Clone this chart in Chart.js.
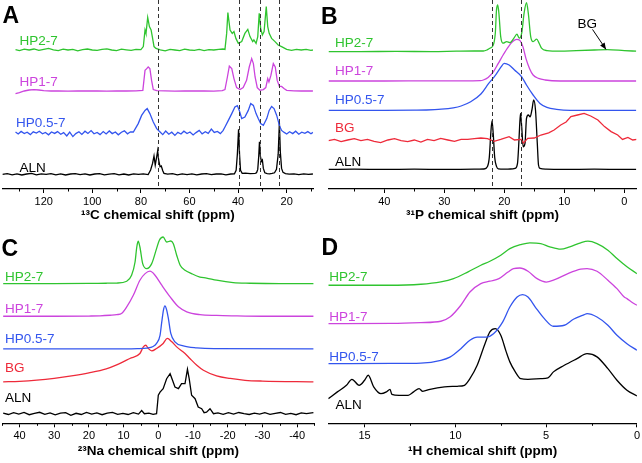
<!DOCTYPE html>
<html>
<head>
<meta charset="utf-8">
<script src="https://cdn.jsdelivr.net/npm/chart.js@4.4.1/dist/chart.umd.min.js"></script>
<style>
  body { margin: 0; background: #fff; }
  #wrap { position: relative; width: 642px; height: 463px; }
  canvas { position: absolute; }
</style>
</head>
<body>
<div id="wrap">
  <canvas id="chartA" width="321" height="232" style="left:0;top:0"></canvas>
  <canvas id="chartB" width="321" height="232" style="left:321px;top:0"></canvas>
  <canvas id="chartC" width="321" height="231" style="left:0;top:232px"></canvas>
  <canvas id="chartD" width="321" height="231" style="left:321px;top:232px"></canvas>
</div>
<script>
// colours per sample
var colGreen = '#2fc42f', colMagenta = '#cc44dd', colBlue = '#3355ee', colRed = '#ee2a3a', colBlack = '#000';

// ---- panel A: 13C, [ppm, intensity] ----
var a_hp2 = [[131.6,0.2],[130,-0.3],[128,0.4],[126,0],[124,0.5],[122,-0.2],[120,0.3],[118,0.8],[116,0.1],[114,-0.3],[112,0.4],[110,0],[108,0.3],[106,-0.4],[104,0.2],[102,0.5],[100,0],[98,-0.2],[96,0.3],[94,0.6],[92,0],[90,-0.3],[88,0.4],[86,0.1],[84,-0.2],[82,0.3],[80,0.2],
  [79,1.7],[78.3,10],[77.9,8.3],[77.2,16.3],[76.5,11.7],[75.8,10],[75.3,6.7],[74.6,1.7],[73.8,0.8],
  [72,0.1],[70,-0.4],[68,0.3],[66,0],[64,-0.3],[62,0.4],[60,0],[58,-0.2],[56,0.3],[54,-0.3],[52,0.2],[50,0],[48,0.3],[46.2,0.5],
  [45.4,0.3],[44.7,8.3],[44.2,18.7],[43.3,10],[42.4,8.3],[41.7,9.2],[40.9,5.8],[39.9,3.3],[38.5,4.2],[37.2,8.3],[36,10.3],[35.1,6.7],[34,4.2],[33.5,5],[32.6,3.3],[31.9,6.7],[31.3,18.3],[30.7,10.8],[30,7.5],[29.3,9.2],[28.4,21.7],[27.8,11.7],[27.2,8.3],[26.2,5.8],[24.8,4.2],[23.5,2.5],[22.1,1.7],[20,0.3],
  [18,-0.2],[16,0.3],[14,0],[12,0.3],[10,-0.2],[9.2,0]];
var a_hp1 = [[131.6,-1.3],[130,-0.8],[128,0],[126,0.5],[124,0.7],[122,0.5],[120,0.2],[117,0],[114,0.1],[110,-0.1],[106,0.1],[102,0],[98,0.1],[94,-0.1],[90,0.1],[86,0],[82,0.1],[79.2,0.3],
  [78.3,10.3],[77.6,11.2],[77,12],[76.3,11.2],[75.6,5.3],[74.9,0.7],[73.5,0.2],[70,0.1],[66,-0.1],[62,0.1],[58,0],[54,0.1],[50,-0.1],[46.5,0.2],
  [45.4,0.7],[44.4,7],[43.6,12.4],[42.6,11.2],[41.7,6.2],[40.6,1.7],[39.2,0.7],[37.9,1.7],[36.5,5.3],[35.4,12],[34.4,16.2],[33.7,13.7],[33,7],[32.1,1.7],[31,0.35],[29.6,0.7],[28.6,1.7],[27.8,6.2],[27.3,4.5],[26.5,7.8],[25.5,13.7],[24.7,12],[23.9,5.3],[23,2.3],[22.1,2.3],[21.1,1.2],[20,0.35],[17,0.1],[14,0],[11,0.1],[9.2,0]];
var a_hp05 = [[131.6,0.5],[130.5,-0.5],[129.3,0.8],[128,-0.3],[126.8,0.4],[125.5,-0.8],[124.3,0.6],[123,0],[121.8,0.9],[120.5,-0.4],[119.3,0.3],[118,-0.9],[116.8,0.5],[115.5,-0.2],[114.3,0.7],[113,-0.6],[111.8,0.2],[110.5,-1.5],[109.3,0.4],[108,-1.8],[106.8,-0.3],[105.5,0.6],[104.3,-0.7],[103,0.9],[101.8,-0.2],[100.5,1.2],[99.3,-0.4],[98,0.3],[96.8,-0.8],[95.5,0.7],[94.3,-0.5],[93,1],[91.8,-0.3],[90.5,0.5],[89.3,-0.9],[88,0.4],[86.8,1.1],[85.5,-0.4],[84.3,0.6],[83.1,0.5],
  [81.1,4.7],[79.7,8.8],[78.3,11.3],[77.4,12.2],[76.3,9.7],[74.9,5.5],[73.5,2.2],[72.1,0.5],
  [71,-0.8],[69.8,1],[68.5,-0.6],[67.3,0.4],[66,-1.2],[64.8,0.3],[63.5,-0.5],[62.3,0.9],[61,-0.3],[59.8,0.5],[58.5,-1],[57.3,0.2],[56,1.3],[54.8,-0.4],[53.5,0.6],[52.3,-0.2],[51,2],[49.8,0.3],[48.5,0.8],[47.3,-0.3],[46.2,1.2],
  [45.4,3],[44,6.3],[42.6,9.7],[41.3,13],[40.3,13.7],[39.5,11.3],[38.5,7.2],[37.2,8],[35.8,11.3],[34.8,14.7],[33.7,13.8],[32.6,9.7],[31.7,7.2],[30.7,4.7],[29.6,3.8],[28.2,7.2],[27.2,11.3],[26.2,13.3],[25.2,12.2],[24.1,8.8],[23,3.8],[22.1,1.3],[21,0.3],[20,-0.5],[18.8,0.6],[17.5,-0.3],[16.3,0.9],[15,-0.6],[13.8,0.4],[12.5,-0.2],[11.3,0.7],[10,-0.4],[9.2,0.3]];
var a_aln = [[137,0],[135,0.4],[133,-0.2],[131,0.3],[129,-0.3],[127,0.2],[125,0.5],[123,-0.2],[121,0.3],[119,0],[117,0.4],[115,-0.2],[113,0.3],[111,-0.3],[109,0.2],[107,0.4],[105,-0.1],[103,0.3],[101,-0.3],[99,0.2],[97,0.4],[95,-0.2],[93,0.1],[91,0.4],[89,-0.2],[87,0.2],[85,-0.3],[83,0.3],[81,0],[79,0.3],[77,-0.1],
  [76,2.2],[75.2,5.5],[74.6,9.2],[74.1,4.7],[73.5,8.8],[73.1,11.8],[72.7,7.2],[72.1,3.8],[71.6,4.2],[71,1.8],[70.5,0.5],
  [69,0.1],[67,0.4],[65,-0.2],[63,0.3],[61,-0.1],[59,0.3],[57,-0.2],[55,0.2],[53,0.4],[51,-0.1],[49,0.2],[47,0.3],[45,-0.2],[43,0.2],[41.5,0.3],
  [40.8,2],[40.3,10],[39.8,22.5],[39.4,10],[39,2],[38.3,0.5],[37,0.6],[35,0.4],[33,0.5],[32.4,0.8],
  [31.9,2.5],[31.5,9],[31.2,16.3],[30.8,9],[30.4,6.5],[30,7.2],[29.6,3],[29,0.8],[28,0.4],[27,0.3],[26,0.5],[25,0.8],
  [24.2,2.5],[23.5,10],[23,25.8],[22.6,11],[22.1,3],[21.5,1],[20.5,0.4],[19,0.1],[17,0.3],[15,-0.1],[13,0.3],[11,0],[9.2,0.2]];
var a_offsets = [69.5, 49, 28, 7.3];
var a_dashed = [73, 39.8, 31, 23];

// ---- panel B: 31P ----
var b_hp2 = [[49.3,0],[44,0],[38,0.1],[32,0],[28,0.2],[25,0.3],[23.5,0.3],[22.9,0.8],[22.4,1.7],[21.9,2.9],[21.5,9.2],[21.3,20.8],[21.1,23.3],[20.9,19.2],[20.6,7.5],[20.2,4.2],[19.6,5],[19.05,4.5],[18.4,6.7],[17.9,8.7],[17.5,6.7],[17.1,9.2],[16.7,19.2],[16.3,24.5],[16,19.2],[15.6,7.5],[15.2,5],[14.6,6.2],[14.2,4.2],[13.8,1.7],[12.9,0.5],[10.7,0.2],[8,0.5],[5,0.8],[2.8,1],[0,0.5],[-2,0.2]];
var b_hp1 = [[49.3,0],[40,0],[32,0.1],[27,0.1],[24,0.2],[23.5,0.5],[22.7,1.8],[21.8,4.7],[21,8.8],[20.2,13],[19.3,17.2],[18.6,19.7],[17.9,20.8],[17.5,20.5],[16.9,17.2],[16.4,11.3],[15.8,6.3],[15.2,3],[14.3,1.3],[13.2,0.5],[10.7,0],[5,0],[-2,0]];
var b_hp05 = [[49.3,0],[40,0],[35,0.1],[33,0.2],[30.5,0.6],[28.5,1.3],[27.2,2.2],[25.6,4.3],[23.9,8.2],[22.6,13.5],[21.5,17.5],[20.6,21.5],[20,23.5],[19.2,22.7],[18.3,20.2],[17.1,16.8],[16.3,12.7],[15.2,7.7],[14.05,3.5],[12.9,1.5],[11.3,0.5],[9,0],[-2,0]];
var b_bg = [[49.3,-0.3],[48.3,0.3],[47.2,-0.8],[46.1,0],[45,0.7],[43.9,-0.3],[42.8,0.3],[41.7,-0.7],[40.6,-1.3],[39.4,0],[38.3,0.7],[37.2,-0.3],[36.1,-0.8],[35,0],[33.9,-1],[32.8,0.3],[31.7,-0.3],[30.6,0.8],[29.4,0],[28.3,-0.7],[27.2,0.3],[26.1,0.3],[25,0.7],[23.9,1],[22.8,0.7],[21.7,-0.7],[20.6,0.3],[19.2,1.7],[18.3,0],[17.2,0.3],[16.8,-1.5],[16.1,0.8],[15,1],[13.9,2.5],[12.6,3.6],[11.7,5],[10.6,7.5],[9.7,9],[8.9,11.7],[7.8,12.5],[6.7,13.3],[5.6,12],[4.4,10],[3.3,6.7],[2.2,4.2],[1.1,2.5],[0.3,0.3],[-0.6,1.3],[-1.4,0],[-2.1,0.3]];
var b_aln = [[49.3,0],[45,0.1],[40,0],[35,0.1],[30,0],[25,0.1],[23.4,0.2],[22.8,1.5],[22.5,6],[22.25,18],[22.05,24.3],[21.85,18],[21.6,6],[21.3,1.5],[21,0.3],[20,0.1],[19,0.2],[18.2,0.5],[17.8,3],[17.6,12],[17.45,21.3],[17.3,28],[17.1,21.3],[16.85,11.3],[16.55,13],[16.3,25.5],[16,27.2],[15.7,26.3],[15.4,29.7],[15.1,34.7],[14.8,29.7],[14.5,13],[14.3,2.2],[14.05,0.5],[13,0.1],[10,0],[5,0.1],[0,0],[-2,0]];
var b_offsets = [68.7, 54, 39.3, 24.5, 9.8];
var b_dashed = [22.05, 17.3];

// ---- panel C: 23Na ----
var c_hp2 = [[44.7,0],[30,0],[20,0.1],[15,0.2],[12,0.3],[9.1,1.2],[7.7,4.2],[6.7,10.8],[6.2,18.3],[5.8,21.2],[5.3,18.3],[4.5,10],[3.3,7.5],[1.9,10],[0.5,17.5],[-0.3,21.7],[-1.4,23.3],[-2.4,20.8],[-3.6,21.3],[-4.3,20],[-5.3,14.2],[-6.3,9.2],[-7.7,6.7],[-9.6,5],[-12,3.3],[-13.9,2.8],[-16.8,1.7],[-21.6,0.5],[-26.4,0.2],[-35,0],[-44.7,0]];
var c_hp1 = [[44.7,0],[30,0],[20,0.1],[16.8,0.2],[13.9,0.5],[12,0.8],[10.5,1.5],[9.1,4.7],[7.2,10.5],[5.3,18],[3.8,21.3],[2.4,22.5],[0.95,20.5],[-1,15.5],[-3.4,9.7],[-5.8,4.7],[-8.2,2.2],[-12,0.8],[-16.8,0.4],[-21.6,0.2],[-30,0],[-44.7,0]];
var c_hp05 = [[44.7,0],[20,0],[10,0],[6,0.1],[3.3,0.4],[1.5,1.2],[0.5,2.7],[-0.5,6.8],[-1,13.5],[-1.5,19.5],[-1.9,21.5],[-2.4,19.5],[-2.9,15.2],[-3.6,7.7],[-4.8,3.5],[-7.2,1.5],[-11.1,0.5],[-16,0.1],[-44.7,0]];
var c_bg = [[44.7,0],[40,0.3],[35,0.9],[30,1.8],[25,3],[20,4.5],[15,6.5],[12,8.5],[8.2,11.7],[5.3,14.2],[4.3,17.5],[3.6,18.3],[2.9,16.7],[1.9,15.5],[0.5,16.7],[-1.4,19.2],[-2.6,21.7],[-3.9,20],[-5.3,17.5],[-7.7,14.2],[-9.1,11.7],[-11.1,8.3],[-13,5.8],[-16.8,3],[-20.7,1.7],[-25,0.8],[-30,0.4],[-44.7,0]];
var c_aln = [[44.7,0.3],[43.2,-0.4],[41.7,0.5],[40.2,-0.2],[38.7,0.6],[37.2,-0.5],[35.7,0.2],[34.2,0.7],[32.7,-0.3],[31.2,0.4],[29.7,-0.6],[28.2,0.3],[26.7,0.5],[25.2,-0.8],[23.7,0.2],[22.2,-0.4],[20.7,0.6],[19.2,-0.2],[17.7,0.4],[16.2,-0.5],[14.7,0.3],[13.2,0.7],[11.7,-0.3],[10.2,0.2],[8.7,-0.4],[7.2,0.5],[5.7,-0.2],[4.8,1.6],[4,0],[2.7,0.3],[1.5,-0.3],[0.5,0],
  [0,9.2],[-0.5,10.8],[-1.4,12.5],[-2.4,17.5],[-3.4,20],[-4.1,16.7],[-4.8,13.3],[-5.8,12.5],[-6.7,15],[-7.7,15],[-8.4,22.2],[-8.9,17.5],[-9.6,9.2],[-10.6,7.5],[-11.5,3.3],[-12.5,2.5],[-13.2,0.5],[-13.9,0.8],[-14.9,2.5],[-15.9,0],
  [-17.2,0.4],[-18.7,-0.3],[-20.2,0.5],[-21.7,-0.2],[-23.2,0.6],[-24.7,0],[-26.2,-0.4],[-27.7,0.3],[-29.2,-0.2],[-30.7,0.5],[-32.2,-0.3],[-33.7,0.2],[-35.2,0.6],[-36.7,-0.3],[-38.2,0.2],[-39.7,-0.5],[-41.2,0.4],[-42.7,0],[-44.7,0.5]];
var c_offsets = [69.8, 53.5, 37.2, 20.7, 4.8];

// ---- panel D: 1H ----
var d_hp2 = [[17,0],[13.7,0],[11.9,0.5],[10.8,1.7],[10.1,3.3],[9.3,6.7],[8.6,10],[8.1,12],[7.5,15],[7,18.3],[6.4,20.3],[5.9,21.2],[5.3,20.8],[4.8,19.2],[4.2,18],[3.7,19.2],[3.1,21.2],[2.7,22],[2.2,20.8],[1.6,17.5],[1.1,13.3],[0.55,9.2],[0,5.8]];
var d_hp1 = [[17,0],[13.5,0.1],[11.9,0.5],[10.8,1.2],[10.3,3.3],[9.7,9.2],[9.2,15.8],[8.6,20],[8.1,21.2],[7.6,22.5],[7.1,25.8],[6.8,27.5],[6.45,27.8],[6,26.2],[5.5,22.5],[5,20.8],[4.6,21.7],[3.8,25],[3.1,27.2],[2.75,27.5],[2.2,26.2],[1.6,21.7],[1.1,17.5],[0.7,13.3],[0.55,12.5],[0.3,10.8],[0,9.2]];
var d_hp05 = [[17,0],[13.5,0.1],[11.9,0.3],[10.8,1.7],[10.3,3.3],[9.7,7.5],[9.2,11.7],[8.8,13.3],[8.3,13.3],[7.9,15],[7.4,20.8],[7,28.3],[6.6,33.3],[6.3,34.5],[6,33.3],[5.6,28.3],[5.1,22.5],[4.6,18.7],[4,19.2],[3.5,22.2],[2.9,24.5],[2.75,25],[2.2,23.3],[1.6,19.2],[1.1,14.2],[0.55,10],[0,6.7]];
var d_aln = [[17,0.3],[16.5,3.7],[16,7],[15.7,10],[15.3,7],[15,9.5],[14.8,12],[14.5,6.2],[14.1,2.8],[13.8,3.7],[13.6,5],[13.5,2.5],[13.1,2],[12.6,2],[12.3,3.7],[12,5.3],[11.8,4],[11.4,5],[10.6,6.2],[9.9,6.5],[9.5,7],[9.2,10.3],[8.8,17],[8.4,27],[8.1,33.7],[7.8,35.3],[7.5,32],[7.2,23.7],[7,18.7],[6.7,13.7],[6.4,10.3],[6,10],[5.3,10.3],[4.9,10.7],[4.6,13.7],[4,17],[3.3,20.3],[2.75,22.8],[2.2,21.2],[1.6,15.3],[1.1,9.5],[0.55,4.5],[0,1.7]];
var d_offsets = [69, 49.8, 29.8, 12];

function lineSet(points, offset, color, smooth) {
  return {
    data: points.map(function(p) { return { x: p[0], y: p[1] + offset }; }),
    borderColor: color,
    borderWidth: 1.3,
    pointRadius: 0,
    tension: smooth ? 0.4 : 0,
    cubicInterpolationMode: smooth ? 'monotone' : 'default',
    fill: false
  };
}

// dashed guides, minor ticks, sample names, arrow and panel letter
function decoPlugin(cfg) {
  return {
    id: 'deco' + cfg.letter,
    afterDatasetsDraw: function(chart) {
      var ctx = chart.ctx, xs = chart.scales.x, ys = chart.scales.y, area = chart.chartArea;
      ctx.save();
      ctx.setLineDash([4, 3]);
      ctx.strokeStyle = '#333';
      ctx.lineWidth = 1;
      (cfg.dashed || []).forEach(function(v) {
        var px = Math.round(xs.getPixelForValue(v)) + 0.5;
        ctx.beginPath();
        ctx.moveTo(px, area.top);
        ctx.lineTo(px, area.bottom);
        ctx.stroke();
      });
      ctx.setLineDash([]);

      // shorter minor ticks
      ctx.strokeStyle = '#000';
      xs.ticks.forEach(function(t) {
        if (Math.abs(t.value % cfg.major) > 1e-6) {
          var px = Math.round(xs.getPixelForValue(t.value)) + 0.5;
          ctx.beginPath();
          ctx.moveTo(px, area.bottom);
          ctx.lineTo(px, area.bottom + 2.5);
          ctx.stroke();
        }
      });

      ctx.font = '13.5px "Liberation Sans", Arial, sans-serif';
      ctx.textBaseline = 'middle';
      ctx.textAlign = 'left';
      cfg.labels.forEach(function(l) {
        ctx.fillStyle = l.color;
        ctx.fillText(l.text, xs.getPixelForValue(l.x), ys.getPixelForValue(l.y));
      });

      if (cfg.arrow) {
        var x1 = xs.getPixelForValue(cfg.arrow.from[0]), y1 = ys.getPixelForValue(cfg.arrow.from[1]);
        var x2 = xs.getPixelForValue(cfg.arrow.to[0]), y2 = ys.getPixelForValue(cfg.arrow.to[1]);
        ctx.strokeStyle = '#000';
        ctx.fillStyle = '#000';
        ctx.lineWidth = 1;
        ctx.beginPath(); ctx.moveTo(x1, y1); ctx.lineTo(x2, y2); ctx.stroke();
        var ang = Math.atan2(y2 - y1, x2 - x1);
        ctx.beginPath();
        ctx.moveTo(x2, y2);
        ctx.lineTo(x2 - 7 * Math.cos(ang - 0.4), y2 - 7 * Math.sin(ang - 0.4));
        ctx.lineTo(x2 - 7 * Math.cos(ang + 0.4), y2 - 7 * Math.sin(ang + 0.4));
        ctx.closePath();
        ctx.fill();
        ctx.fillText(cfg.arrow.text, xs.getPixelForValue(cfg.arrow.textAt[0]), ys.getPixelForValue(cfg.arrow.textAt[1]));
      }

      ctx.font = 'bold 23px "Liberation Sans", Arial, sans-serif';
      ctx.textBaseline = 'alphabetic';
      ctx.fillStyle = '#000';
      ctx.fillText(cfg.letter, cfg.lx, cfg.ly);
      ctx.restore();
    }
  };
}

function makeChart(id, sets, opt) {
  opt.deco.major = opt.labelEvery;
  return new Chart(document.getElementById(id), {
    type: 'line',
    data: { datasets: sets },
    options: {
      responsive: false,
      animation: false,
      devicePixelRatio: 1,
      layout: { padding: { left: opt.padL, right: opt.padR, top: 0, bottom: 0 } },
      plugins: { legend: { display: false }, tooltip: { enabled: false } },
      scales: {
        x: {
          type: 'linear',
          reverse: true,
          min: opt.min,
          max: opt.max,
          afterFit: function(s) { s.height = opt.axisH; },
          border: { display: true, color: '#000', width: 1.3 },
          grid: {
            drawOnChartArea: false, drawTicks: true, tickLength: 4, color: '#000',
            tickColor: function(c) {
              return c.tick && Math.abs(c.tick.value % opt.labelEvery) < 1e-6 ? '#000' : 'rgba(0,0,0,0)';
            }
          },
          ticks: {
            stepSize: opt.step,
            includeBounds: false,
            autoSkip: false,
            maxRotation: 0,
            padding: 2,
            color: '#000',
            font: { family: '"Liberation Sans", Arial, sans-serif', size: 11 },
            callback: function(v) { return Math.abs(v % opt.labelEvery) < 1e-6 ? v : ''; }
          },
          title: {
            display: true,
            text: opt.title,
            color: '#000',
            font: { family: '"Liberation Sans", Arial, sans-serif', size: 13.5, weight: 'bold' },
            padding: { top: 0, bottom: opt.titlePad }
          }
        },
        y: { display: false, min: 0, max: opt.ymax }
      }
    },
    plugins: [decoPlugin(opt.deco)]
  });
}

makeChart('chartA', [
  lineSet(a_hp2, a_offsets[0], colGreen),
  lineSet(a_hp1, a_offsets[1], colMagenta),
  lineSet(a_hp05, a_offsets[2], colBlue),
  lineSet(a_aln, a_offsets[3], colBlack)
], {
  min: 9, max: 137, step: 10, labelEvery: 20, padL: 2.4, padR: 7.6, axisH: 43, ymax: 94.5,
  title: '¹³C chemical shift (ppm)', titlePad: 9,
  deco: {
    letter: 'A', lx: 2.5, ly: 23.3, dashed: a_dashed,
    labels: [
      { text: 'HP2-7', color: colGreen, x: 130, y: 73.7 },
      { text: 'HP1-7', color: colMagenta, x: 130, y: 53.4 },
      { text: 'HP0.5-7', color: colBlue, x: 131.4, y: 32.9 },
      { text: 'ALN', color: colBlack, x: 130, y: 10.4 }
    ]
  }
});

makeChart('chartB', [
  lineSet(b_hp2, b_offsets[0], colGreen, true),
  lineSet(b_hp1, b_offsets[1], colMagenta, true),
  lineSet(b_hp05, b_offsets[2], colBlue, true),
  lineSet(b_bg, b_offsets[3], colRed),
  lineSet(b_aln, b_offsets[4], colBlack, true)
], {
  min: -2, max: 49.3, step: 5, labelEvery: 10, padL: 7.5, padR: 5.7, axisH: 43, ymax: 94.5,
  title: '³¹P chemical shift (ppm)', titlePad: 9,
  deco: {
    letter: 'B', lx: 0, ly: 24, dashed: b_dashed,
    labels: [
      { text: 'HP2-7', color: colGreen, x: 48.2, y: 72.8 },
      { text: 'HP1-7', color: colMagenta, x: 48.2, y: 58.7 },
      { text: 'HP0.5-7', color: colBlue, x: 48.2, y: 44.5 },
      { text: 'BG', color: colRed, x: 48.2, y: 30.3 },
      { text: 'ALN', color: colBlack, x: 48.2, y: 13.3 }
    ],
    arrow: { text: 'BG', textAt: [7.8, 82.5], from: [5.3, 79.8], to: [3.05, 69.8] }
  }
});

makeChart('chartC', [
  lineSet(c_hp2, c_offsets[0], colGreen, true),
  lineSet(c_hp1, c_offsets[1], colMagenta, true),
  lineSet(c_hp05, c_offsets[2], colBlue, true),
  lineSet(c_bg, c_offsets[3], colRed, true),
  lineSet(c_aln, c_offsets[4], colBlack)
], {
  min: -45, max: 45, step: 5, labelEvery: 10, padL: 2.15, padR: 6.55, axisH: 39.7, ymax: 95.6,
  title: '²³Na chemical shift (ppm)', titlePad: 4,
  deco: {
    letter: 'C', lx: 1.5, ly: 23.5,
    labels: [
      { text: 'HP2-7', color: colGreen, x: 44.2, y: 73.2 },
      { text: 'HP1-7', color: colMagenta, x: 44.2, y: 56.8 },
      { text: 'HP0.5-7', color: colBlue, x: 44.2, y: 42 },
      { text: 'BG', color: colRed, x: 44.2, y: 27.3 },
      { text: 'ALN', color: colBlack, x: 44.2, y: 12.3 }
    ]
  }
});

makeChart('chartD', [
  lineSet(d_hp2, d_offsets[0], colGreen, true),
  lineSet(d_hp1, d_offsets[1], colMagenta, true),
  lineSet(d_hp05, d_offsets[2], colBlue, true),
  lineSet(d_aln, d_offsets[3], colBlack, true)
], {
  min: 0, max: 17, step: 2.5, labelEvery: 5, padL: 7.3, padR: 4.3, axisH: 39.7, ymax: 95.6,
  title: '¹H chemical shift (ppm)', titlePad: 4,
  deco: {
    letter: 'D', lx: 0.5, ly: 22.7,
    labels: [
      { text: 'HP2-7', color: colGreen, x: 16.95, y: 73 },
      { text: 'HP1-7', color: colMagenta, x: 16.95, y: 53.2 },
      { text: 'HP0.5-7', color: colBlue, x: 16.95, y: 33.2 },
      { text: 'ALN', color: colBlack, x: 16.6, y: 9 }
    ]
  }
});
</script>
</body>
</html>
